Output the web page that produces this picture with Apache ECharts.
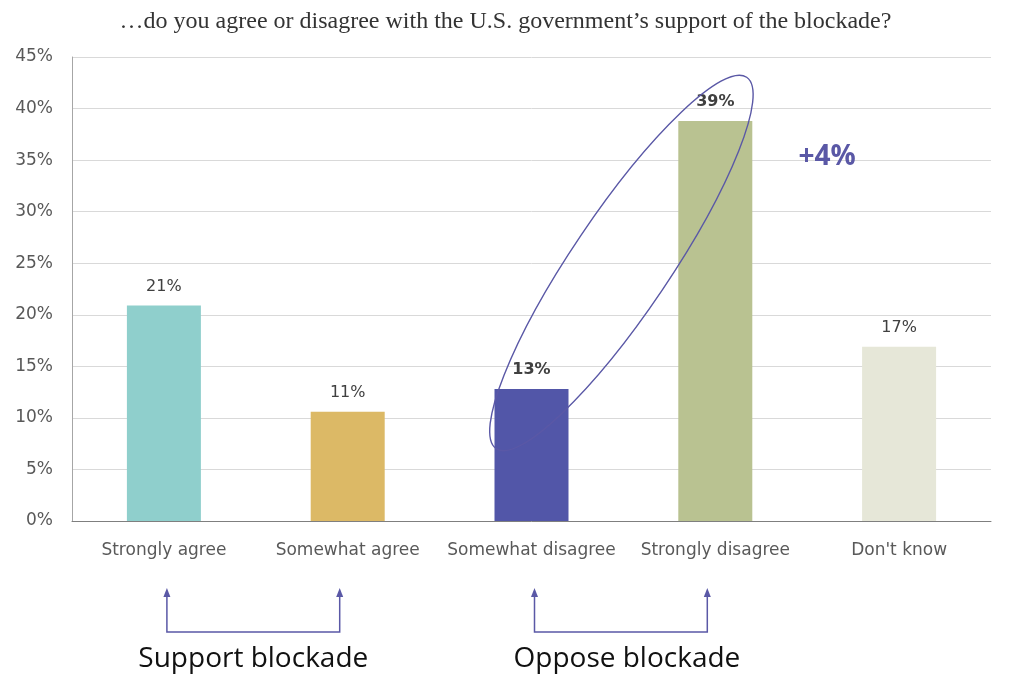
<!DOCTYPE html>
<html>
<head>
<meta charset="utf-8">
<script src="https://cdn.jsdelivr.net/npm/echarts@6/dist/echarts.min.js"></script>
<style>
  html, body { margin: 0; padding: 0; background: #fff; }
  #chart { width: 1011px; height: 680px; }
</style>
</head>
<body>
<div id="chart"></div>
<script>
// answers to the blockade question
const categories = ['Strongly agree', 'Somewhat agree', 'Somewhat disagree', 'Strongly disagree', "Don't know"];
const shares = [20.9, 10.6, 12.8, 38.8, 16.9];
const shareLabels = ['21%', '11%', '13%', '39%', '17%'];
const barColors = ['#8fcfcc', '#dcb966', '#5256a8', '#b9c291', '#e6e7d8'];
const yTicks = [0, 5, 10, 15, 20, 25, 30, 35, 40, 45];

const titleText = '\u2026do you agree or disagree with the U.S. government\u2019s support of the blockade?';
const accent = '#5a58a6';

let myChart = echarts.init(document.getElementById('chart'));

myChart.setOption({
    animation: false,
    title: {
        text: titleText,
        left: 'center',
        top: 5,
        textStyle: {
            fontFamily: 'Liberation Serif',
            fontSize: 24,
            fontWeight: 'normal',
            color: '#333'
        }
    },
    grid: {
        left: 72,
        right: 20,
        top: 57,
        bottom: 159
    },
    xAxis: {
        type: 'category',
        data: categories,
        axisLine: { lineStyle: { color: '#7f7f7f', width: 1 } },
        axisTick: { show: false },
        axisLabel: {
            margin: 21,
            fontFamily: 'DejaVu Sans',
            fontSize: 17,
            color: '#595959',
            interval: 0
        }
    },
    yAxis: {
        type: 'value',
        min: yTicks[0],
        max: yTicks[yTicks.length - 1],
        interval: 5,
        axisLine: { show: true, lineStyle: { color: '#a6a6a6' } },
        axisTick: { show: false },
        splitLine: { lineStyle: { color: '#d9d9d9' } },
        axisLabel: {
            formatter: '{value}%',
            margin: 19,
            fontFamily: 'DejaVu Sans',
            fontSize: 17,
            color: '#595959'
        }
    },
    series: [{
        type: 'bar',
        barWidth: 74,
        data: shares.map((v, i) => ({
            value: v,
            itemStyle: { color: barColors[i] },
            label: { fontWeight: (i === 2 || i === 3) ? 'bold' : 'normal' }
        })),
        label: {
            show: true,
            position: 'top',
            distance: 11,
            formatter: p => shareLabels[p.dataIndex],
            fontFamily: 'DejaVu Sans',
            fontSize: 16,
            color: '#404040'
        }
    }]
});

// annotations placed from the axes
function px(i, v) {
    return myChart.convertToPixel({ seriesIndex: 0 }, [i, v]);
}

// ring round the two "disagree" bars
let topOpp = px(3, shares[3]);
let botOpp = px(2, shares[2]);
let cx = (topOpp[0] + botOpp[0]) / 2 - 2;
let cy = (topOpp[1] + botOpp[1]) / 2 + 8;

let arrowY1 = 592, arrowY2 = 632;
function bracket(i1, i2, off1, off2, text, textOff) {
    let x1 = px(i1, 0)[0] + off1;
    let x2 = px(i2, 0)[0] + off2;
    let line = { stroke: accent, lineWidth: 1.5 };
    return [
        { type: 'polyline', shape: { points: [[x1, arrowY1 + 4], [x1, arrowY2], [x2, arrowY2], [x2, arrowY1 + 4]] }, style: Object.assign({ fill: null }, line) },
        { type: 'polygon', shape: { points: [[x1, arrowY1 - 4], [x1 - 3.5, arrowY1 + 5], [x1 + 3.5, arrowY1 + 5]] }, style: { fill: accent } },
        { type: 'polygon', shape: { points: [[x2, arrowY1 - 4], [x2 - 3.5, arrowY1 + 5], [x2 + 3.5, arrowY1 + 5]] }, style: { fill: accent } },
        { type: 'text', x: (x1 + x2) / 2 + textOff, y: 659, style: { text: text, fill: '#111', font: '28px "Open Sans"', align: 'center', verticalAlign: 'middle' } }
    ];
}

myChart.setOption({
    graphic: [
        {
            type: 'ellipse',
            x: cx, y: cy,
            z: 100,
            rotation: 56 * Math.PI / 180,
            shape: { cx: 0, cy: 0, rx: 224, ry: 49 },
            style: { fill: null, stroke: accent, lineWidth: 1.4 }
        },
        {
            type: 'text',
            x: 827, y: 157,
            style: { text: '+4%', fill: accent, font: 'bold 28px "Open Sans"', align: 'center', verticalAlign: 'middle' }
        }
    ].concat(bracket(0, 1, 3, -8, 'Support blockade', 0), bracket(2, 3, 3, -8, 'Oppose blockade', 6))
});
</script>
</body>
</html>
